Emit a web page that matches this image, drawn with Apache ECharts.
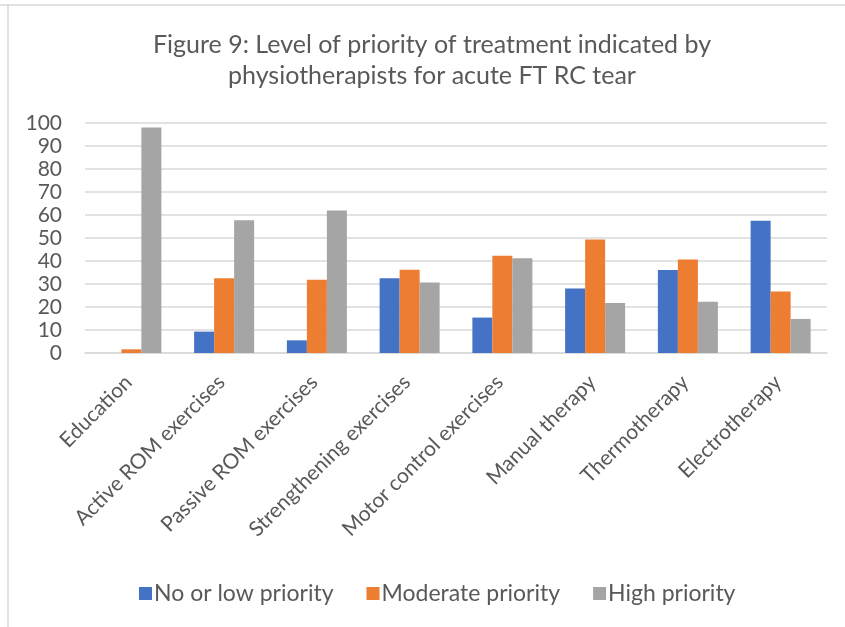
<!DOCTYPE html>
<html>
<head>
<meta charset="utf-8">
<script src="https://cdn.jsdelivr.net/npm/echarts@6/dist/echarts.min.js"></script>
<style>
  html, body { margin: 0; padding: 0; background: #fff; }
  #chart { width: 845px; height: 627px; }
</style>
</head>
<body>
<div id="chart"></div>
<script>
// Treatment categories and share of physiotherapists (%) per priority level
const categories = ['Education', 'Active ROM exercises', 'Passive ROM exercises',
  'Strengthening exercises', 'Motor control exercises', 'Manual therapy',
  'Thermotherapy', 'Electrotherapy'];
const lowPriority      = [0,    9.3,  5.5,  32.5, 15.4, 28.0, 36.1, 57.5];
const moderatePriority = [1.6,  32.5, 31.9, 36.2, 42.3, 49.4, 40.6, 26.7];
const highPriority     = [98.0, 57.7, 62.0, 30.6, 41.2, 21.7, 22.3, 14.8];
const seriesNames = ['No or low priority', 'Moderate priority', 'High priority'];
const yTicks = [0, 10, 20, 30, 40, 50, 60, 70, 80, 90, 100];

const FONT = 'Lato, "Open Sans", sans-serif';
const TEXT = '#595959';
const GRID = '#d9d9d9';

const chart = echarts.init(document.getElementById('chart'));

function barSeries(name, data, color) {
  return {
    name: name,
    type: 'bar',
    data: data,
    barWidth: 20,
    barGap: '0%',
    itemStyle: { color: color },
    emphasis: { disabled: true }
  };
}

chart.setOption({
  animation: false,
  textStyle: { fontFamily: FONT },
  title: {
    text: 'Figure 9: Level of priority of treatment indicated by\nphysiotherapists for acute FT RC tear',
    left: 427,
    top: 24,
    textAlign: 'center',
    textStyle: {
      fontFamily: FONT,
      fontSize: 25,
      fontWeight: 'normal',
      color: TEXT,
      lineHeight: 31
    }
  },
  legend: {
    data: seriesNames,
    left: 134,
    top: 577,
    itemWidth: 13,
    itemHeight: 13,
    itemGap: 33,
    icon: 'rect',
    textStyle: { fontFamily: FONT, fontSize: 23, color: TEXT, padding: [0, 0, 0, -3] }
  },
  grid: {
    left: 85,
    right: 18,
    top: 123,
    bottom: 274,
    containLabel: false
  },
  xAxis: {
    type: 'category',
    data: categories,
    axisTick: { show: false },
    axisLine: { show: true, lineStyle: { color: GRID, width: 1.5 } },
    axisLabel: {
      rotate: 45,
      margin: 23,
      interval: 0,
      padding: [0, 4, 0, 0],
      fontFamily: FONT,
      fontSize: 21,
      color: TEXT
    }
  },
  yAxis: {
    type: 'value',
    min: yTicks[0],
    max: yTicks[yTicks.length - 1],
    interval: 10,
    axisLine: { show: false },
    axisTick: { show: false },
    splitLine: { lineStyle: { color: GRID, width: 1.5 } },
    axisLabel: {
      margin: 23,
      fontFamily: FONT,
      fontSize: 21,
      color: TEXT
    }
  },
  series: [
    barSeries(seriesNames[0], lowPriority, '#4472C4'),
    barSeries(seriesNames[1], moderatePriority, '#ED7D31'),
    barSeries(seriesNames[2], highPriority, '#A5A5A5')
  ],
  graphic: [
    { type: 'line', shape: { x1: 0, y1: 5, x2: 845, y2: 5 }, style: { stroke: GRID, lineWidth: 1.5 }, silent: true },
    { type: 'line', shape: { x1: 8, y1: 5, x2: 8, y2: 627 }, style: { stroke: GRID, lineWidth: 1.5 }, silent: true }
  ]
});
</script>
</body>
</html>
